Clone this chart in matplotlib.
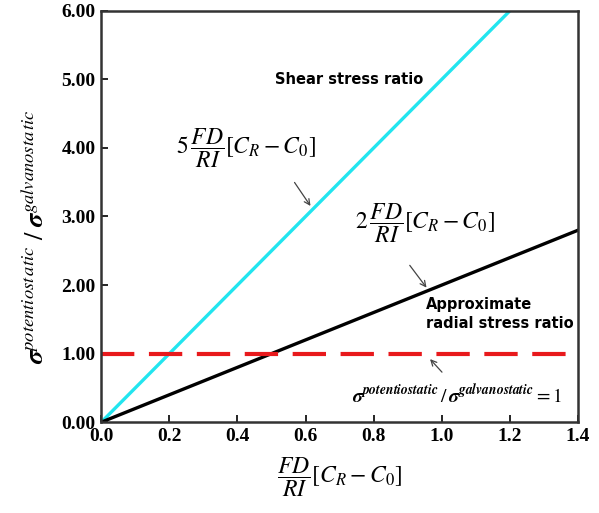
import numpy as np
import matplotlib
matplotlib.use('Agg')
import matplotlib.pyplot as plt

plt.rcParams['mathtext.fontset'] = 'stix'
plt.rcParams['font.family'] = ['Liberation Serif', 'DejaVu Serif']

# data: stress ratio lines vs FD/RI[C_R - C_0]
x_vals = [0.0, 1.4]
shear_ratio = [0.0, 7.0]      # 5 * x
radial_ratio = [0.0, 2.8]     # 2 * x
unity = [1.0, 1.0]

fig = plt.figure(figsize=(5.99, 5.13), dpi=100)
ax = fig.add_axes([0.169, 0.177, 0.796, 0.802])

ax.plot(x_vals, shear_ratio, color='#22e5ef', lw=2.4)
ax.plot(x_vals, radial_ratio, color='black', lw=2.4)
ax.plot(x_vals, unity, color='#e8191c', lw=3.0, dashes=(8, 3.5))

ax.set_xlim(0, 1.4)
ax.set_ylim(0, 6)
ax.set_xticks(np.arange(0, 1.41, 0.2))
ax.set_yticks(np.arange(0, 6.01, 1.0))
ax.set_xticklabels([f'{v:.1f}' for v in np.arange(0, 1.41, 0.2)])
ax.set_yticklabels([f'{v:.2f}' for v in np.arange(0, 6.01, 1.0)])
ax.tick_params(direction='in', length=5, width=1.2, labelsize=14, pad=4)
for lab in ax.get_xticklabels() + ax.get_yticklabels():
    lab.set_fontweight('bold')
for s in ax.spines.values():
    s.set_linewidth(1.8)
    s.set_color('#333333')

ax.set_xlabel(r'$\dfrac{FD}{RI}[C_R - C_0]$', fontsize=17, labelpad=8)
ax.set_ylabel(r'$\boldsymbol{\sigma}^{potentiost\,atic}\ /\ \boldsymbol{\sigma}^{galvanosta\,tic}$',
              fontsize=19)
ax.yaxis.set_label_coords(-0.11, 0.45)

sans = ['DejaVu Sans']
ax.text(0.51, 5.0, 'Shear stress ratio', fontsize=10.5, fontweight='bold',
        family=sans, va='center', ha='left')
ax.text(0.22, 4.0, r'$5\,\dfrac{FD}{RI}[C_R - C_0]$', fontsize=17, va='center', ha='left')
ax.annotate('', xy=(0.619, 3.12), xytext=(0.563, 3.53),
            arrowprops=dict(arrowstyle='->', color='#444444', lw=0.9))

ax.text(0.745, 2.9, r'$2\,\dfrac{FD}{RI}[C_R - C_0]$', fontsize=17, va='center', ha='left')
ax.annotate('', xy=(0.96, 1.93), xytext=(0.901, 2.32),
            arrowprops=dict(arrowstyle='->', color='#444444', lw=0.9))
ax.text(0.954, 1.58, 'Approximate\nradial stress ratio', fontsize=10.5, fontweight='bold',
        family=sans, va='center', ha='left', linespacing=1.3)

ax.annotate('', xy=(0.96, 0.95), xytext=(1.006, 0.70),
            arrowprops=dict(arrowstyle='->', color='#444444', lw=0.9))
ax.text(1.045, 0.39,
        r'$\boldsymbol{\sigma}^{\mathbfit{potentiostatic}}\,/\,\boldsymbol{\sigma}^{\mathbfit{galvanostatic}}=1$',
        fontsize=14, va='center', ha='center')

fig.savefig('out.png', dpi=100)
